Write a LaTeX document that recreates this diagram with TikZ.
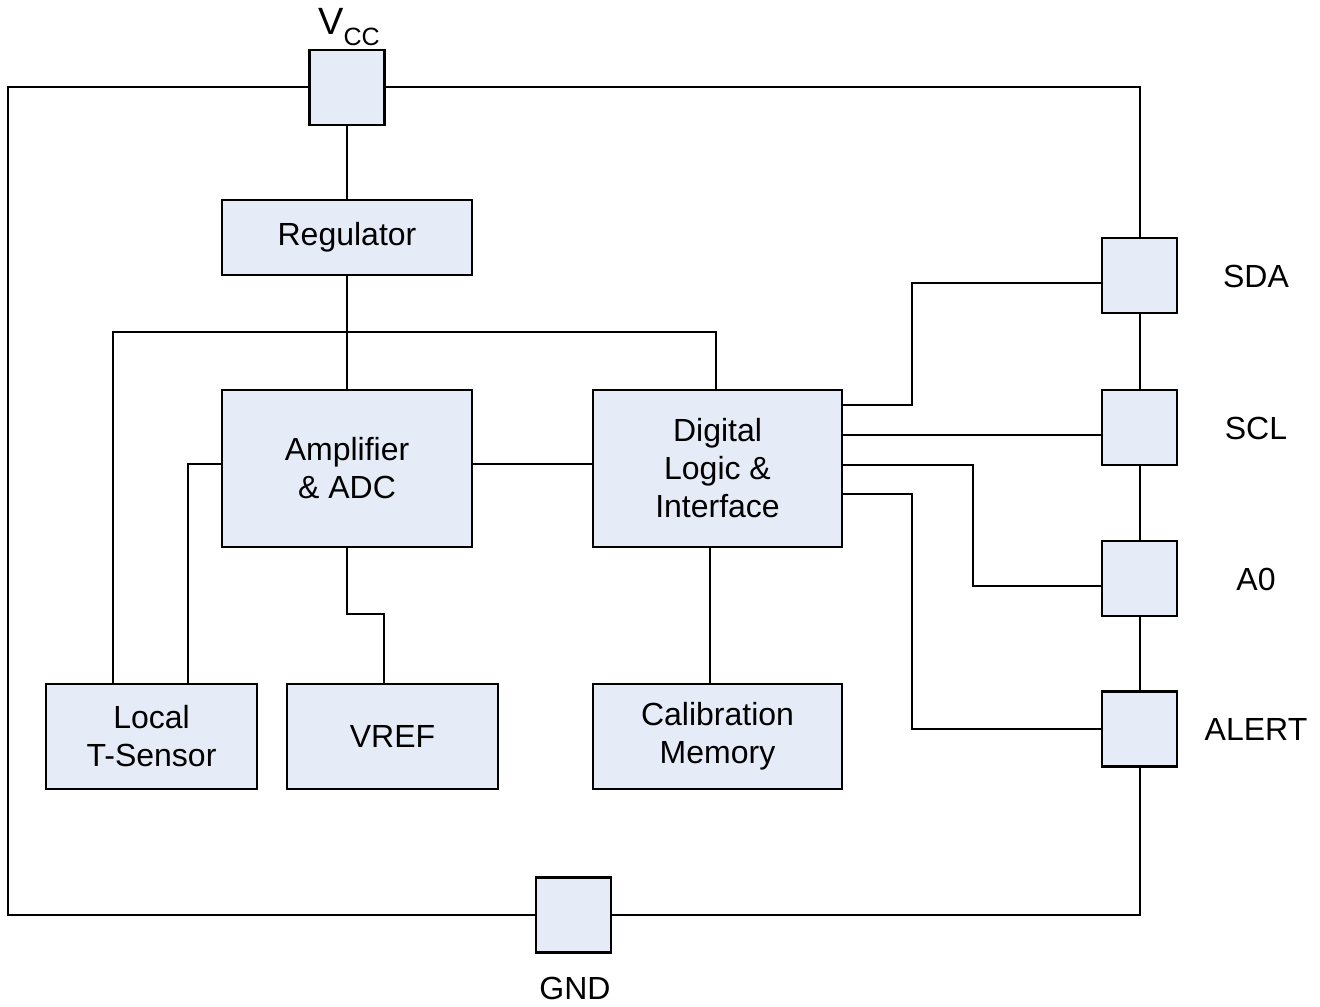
\documentclass[tikz,border=0pt]{standalone}
\usepackage{fontspec}
\setmainfont{Liberation Sans}
\definecolor{boxfill}{RGB}{230,236,247}
\begin{document}
\begin{tikzpicture}[x=0.5pt,y=-0.5pt,
  blk/.style={draw=black, fill=boxfill, line width=1.1pt, inner sep=0pt,
    align=center, font=\fontsize{16}{19}\selectfont},
  pin/.style={blk, minimum width=37.5pt, minimum height=37.5pt},
  wire/.style={line width=1pt, black},
  lbl/.style={font=\fontsize{16}{19}\selectfont, inner sep=0pt}]
\useasboundingbox (0,0) rectangle (1320,1006);

% functional blocks
\node[blk, minimum width=125pt, minimum height=37.5pt] (reg) at (347,237.5) {Regulator};
\node[blk, minimum width=125pt, minimum height=78.5pt] (amp) at (347,468.5) {Amplifier\\\& ADC};
\node[blk, minimum width=124.5pt, minimum height=78.5pt] (dig) at (717.5,468.5) {Digital\\Logic \&\\Interface};
\node[blk, minimum width=105.5pt, minimum height=52.5pt] (lts) at (151.5,736.5) {Local\\T-Sensor};
\node[blk, minimum width=105.5pt, minimum height=52.5pt] (vref) at (392.5,736.5) {VREF};
\node[blk, minimum width=124.5pt, minimum height=52.5pt] (cal) at (717.5,736.5) {Calibration\\Memory};

% package pins
\node[pin] (vcc) at (347,87.5) {};
\node[pin] (gnd) at (573.5,915) {};
\node[pin] (sda) at (1139.5,275.5) {};
\node[pin] (scl) at (1139.5,427.5) {};
\node[pin] (a0) at (1139.5,578.5) {};
\node[pin] (alert) at (1139.5,729) {};

% pin names
\node[lbl, font=\fontsize{19}{20}\selectfont] (vcclbl) at (349,27)
  {V\raisebox{-0.3em}{\fontsize{12.5}{13}\selectfont CC}};
\node[lbl] (gndlbl) at (575,988) {GND};
\node[lbl] (sdalbl) at (1256,276) {SDA};
\node[lbl] (scllbl) at (1256,428) {SCL};
\node[lbl] (a0lbl) at (1256,579) {A0};
\node[lbl] (alertlbl) at (1256,729) {ALERT};

% package outline
\coordinate (tl) at (8,87.5);
\coordinate (bl) at (8,915);
\coordinate (tr) at (1139.5,87.5);
\coordinate (br) at (1139.5,915);
\draw[wire] (vcc.west) -- (tl) -- (bl) -- (gnd.west);
\draw[wire] (vcc.east) -- (tr) -- (sda.north);
\draw[wire] (gnd.east) -- (br) -- (alert.south);
\draw[wire] (sda.south) -- (scl.north);
\draw[wire] (scl.south) -- (a0.north);
\draw[wire] (a0.south) -- (alert.north);

% supply path
\draw[wire] (vcc.south) -- (reg.north);
\draw[wire] (reg.south) -- (amp.north);
\coordinate (busL) at (113,332);
\coordinate (busR) at (716,332);
\draw[wire] (busL |- lts.north) -- (busL) -- (busR) -- (busR |- dig.north);

% analog path
\coordinate (sens) at (188,464);
\draw[wire] (amp.west |- sens) -- (sens) -- (sens |- lts.north);
\draw[wire] (amp.east |- sens) -- (dig.west |- sens);
\coordinate (vj) at (384,614);
\draw[wire] (amp.south) |- (vj) -- (vj |- vref.north);
\coordinate (cj) at (710,600);
\draw[wire] (cj |- dig.south) -- (cj |- cal.north);

% interface lines
\coordinate (sdaA) at (912,405);
\coordinate (sdaB) at (912,283);
\draw[wire] (dig.east |- sdaA) -- (sdaA) -- (sdaB) -- (sda.west |- sdaB);
\coordinate (sclA) at (900,435);
\draw[wire] (dig.east |- sclA) -- (scl.west |- sclA);
\coordinate (a0A) at (973,465);
\coordinate (a0B) at (973,586);
\draw[wire] (dig.east |- a0A) -- (a0A) -- (a0B) -- (a0.west |- a0B);
\coordinate (alA) at (912,494);
\coordinate (alB) at (912,729);
\draw[wire] (dig.east |- alA) -- (alA) -- (alB) -- (alert.west |- alB);
\end{tikzpicture}
\end{document}
